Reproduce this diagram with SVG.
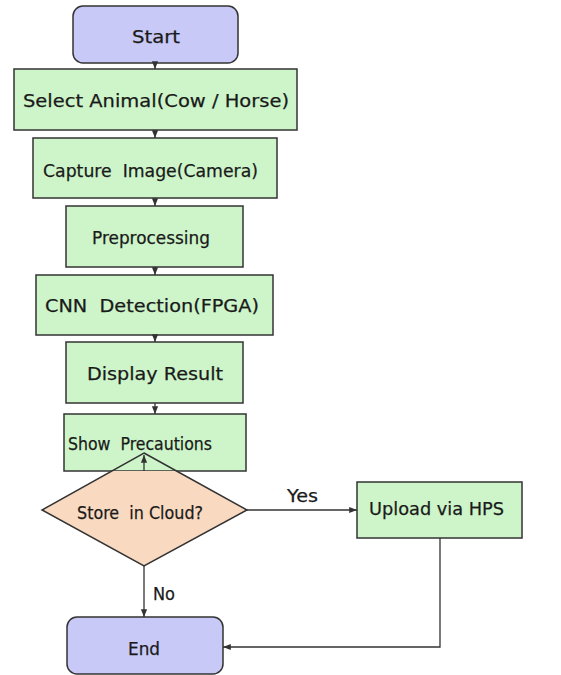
<svg xmlns="http://www.w3.org/2000/svg" width="561" height="675" viewBox="0 0 561 675">
<style>
.t{font-family:"DejaVu Sans",Verdana,sans-serif;font-size:18px;fill:#1a1a1a;stroke:#1a1a1a;stroke-width:0.25;text-anchor:middle;white-space:pre}
.term{fill:#c9c9f7;stroke:#333;stroke-width:1.5}
.proc{fill:#cdf5c9;stroke:#333;stroke-width:1.5}
.dec{fill:#f9d9bf;stroke:none}
.decs{fill:none;stroke:#333;stroke-width:1.5}
.c{fill:none;stroke:#333;stroke-width:1.3}
</style>
<defs>
<marker id="a" viewBox="0 0 10 10" refX="10" refY="5" markerWidth="6" markerHeight="6" orient="auto-start-reverse">
<path d="M0,1 L10,5 L0,9 z" fill="#333"/>
</marker>
<clipPath id="below"><rect x="0" y="471" width="561" height="204"/></clipPath>
</defs>
<rect width="561" height="675" fill="#fff"/>
<g id="start"><rect class="term" x="73" y="6" width="165" height="57" rx="10"/><text class="t" x="156" y="43" textLength="48" lengthAdjust="spacingAndGlyphs">Start</text></g>
<g id="select"><rect class="proc" x="14" y="69" width="283" height="61"/><text class="t" x="156" y="107" textLength="266" lengthAdjust="spacingAndGlyphs">Select Animal(Cow / Horse)</text></g>
<g id="capture"><rect class="proc" x="33" y="138" width="244" height="60"/><text class="t" x="150.5" y="177" textLength="215" lengthAdjust="spacingAndGlyphs">Capture  Image(Camera)</text></g>
<g id="preprocessing"><rect class="proc" x="66" y="206" width="177" height="61"/><text class="t" x="151" y="244" textLength="118" lengthAdjust="spacingAndGlyphs">Preprocessing</text></g>
<g id="cnn"><rect class="proc" x="36" y="275" width="237" height="60"/><text class="t" x="152" y="312" textLength="214" lengthAdjust="spacingAndGlyphs">CNN  Detection(FPGA)</text></g>
<g id="display"><rect class="proc" x="66" y="342" width="177" height="61"/><text class="t" x="155" y="380" textLength="136" lengthAdjust="spacingAndGlyphs">Display Result</text></g>
<g id="precautions"><rect class="proc" x="64" y="414" width="182" height="57"/><text class="t" x="140" y="450" textLength="144" lengthAdjust="spacingAndGlyphs">Show  Precautions</text></g>
<g id="decision"><polygon class="dec" clip-path="url(#below)" points="144,453 247,510 144,566 42,510"/><polygon class="decs" points="144,453 247,510 144,566 42,510"/><text class="t" x="140" y="519" textLength="126" lengthAdjust="spacingAndGlyphs">Store  in Cloud?</text></g>
<g id="upload"><rect class="proc" x="357" y="482" width="165" height="56"/><text class="t" x="436.5" y="515" textLength="135" lengthAdjust="spacingAndGlyphs">Upload via HPS</text></g>
<g id="end"><rect class="term" x="67" y="617" width="156" height="57" rx="10"/><text class="t" x="144" y="655" textLength="32" lengthAdjust="spacingAndGlyphs">End</text></g>
<g id="connectors">
<line class="c" x1="155" y1="63" x2="155" y2="69" marker-end="url(#a)"/>
<line class="c" x1="155" y1="130" x2="155" y2="138" marker-end="url(#a)"/>
<line class="c" x1="155" y1="198" x2="155" y2="206" marker-end="url(#a)"/>
<line class="c" x1="155" y1="267" x2="155" y2="275" marker-end="url(#a)"/>
<line class="c" x1="155" y1="335" x2="155" y2="342" marker-end="url(#a)"/>
<line class="c" x1="155" y1="403" x2="155" y2="414" marker-end="url(#a)"/>
<line class="c" x1="144" y1="471" x2="144" y2="455" marker-end="url(#a)"/>
<line class="c" x1="247" y1="510" x2="357" y2="510" marker-end="url(#a)"/>
<line class="c" x1="144" y1="566" x2="144" y2="617" marker-end="url(#a)"/>
<polyline class="c" points="440,538 440,647 223,647" marker-end="url(#a)"/>
<text class="t" x="302.5" y="502" textLength="31" lengthAdjust="spacingAndGlyphs">Yes</text>
<text class="t" x="164" y="600" textLength="22" lengthAdjust="spacingAndGlyphs">No</text>
</g>
</svg>
